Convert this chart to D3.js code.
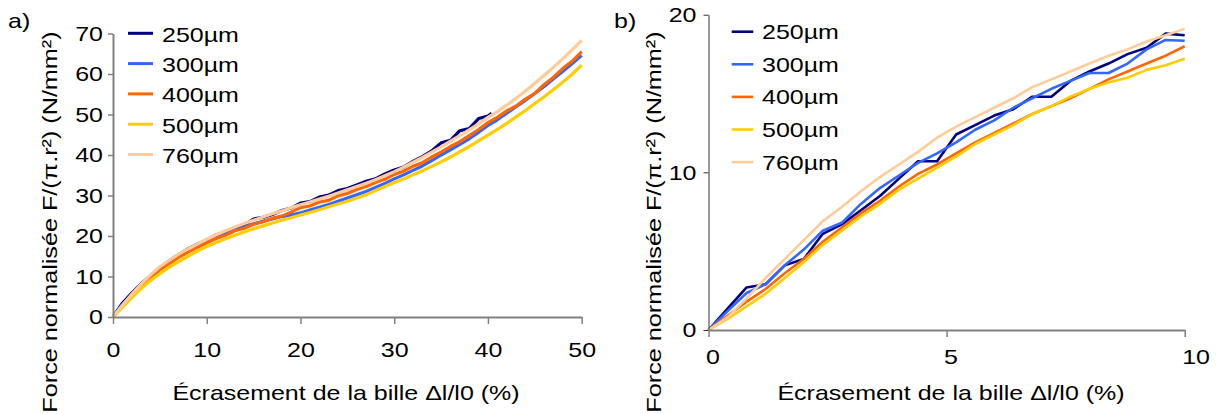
<!DOCTYPE html>
<html><head><meta charset="utf-8">
<script src="https://cdn.jsdelivr.net/npm/d3@7"></script>
<style>
html,body{margin:0;padding:0;background:#fff;}
svg{display:block;}
text{font-family:"Liberation Sans",Arial,sans-serif;fill:#000;}
</style></head>
<body>
<svg id="chart" width="1218" height="414"></svg>
<script>
// ---------- data ----------
const seriesNames = ["250µm","300µm","400µm","500µm","760µm"];
const seriesColors = ["#000080","#3366FF","#FF6600","#FFCC00","#FFCC99"];

// Panel a : écrasement 0–50 %
const xA = [0,1,2,3,4,5,6,7,8,9,10,11,12,13,14,15,16,17,18,19,20,21,22,23,24,25,26,27,28,29,30,31,32,33,34,35,36,37,38,39,40,41,42,43,44,45,46,47,48,49,50];
const xA250 = [0,1,2,3,4,5,6,7,8,9,10,11,12,13,14,15,16,17,18,19,20,21,22,23,24,25,26,27,28,29,30,31,32,33,34,35,36,37,38,39,40,40.4];
const a250 = [0,3.4,5.9,8.2,10.2,12.2,13.9,15.4,16.8,18.0,19.0,20.3,21.0,22.0,22.7,24.2,24.6,25.3,26.3,26.9,28.1,28.5,29.6,30.1,31.2,31.7,32.6,33.5,34.1,35.3,36.3,37.0,38.4,39.6,41.0,43.0,43.6,46.0,46.5,49.0,49.6,50.3];
const a300 = [0,3.0,5.4,7.7,9.8,11.8,13.5,15.0,16.3,17.6,18.7,19.7,20.6,21.4,22.2,23.0,23.6,24.2,24.8,25.2,25.7,26.4,27.1,27.8,28.6,29.4,30.2,31.0,32.0,33.0,34.1,35.1,36.2,37.3,38.6,40.0,41.3,42.6,44.0,45.6,47.3,48.7,50.3,51.9,53.5,55.2,56.9,58.8,60.7,62.6,64.6];
const a400 = [0,2.7,5.3,7.6,9.7,11.6,13.2,14.7,16.0,17.2,18.3,19.4,20.2,21.3,21.9,22.9,23.5,24.4,24.9,25.9,27.0,27.4,28.4,28.8,29.9,30.5,31.5,32.2,33.2,34.0,35.2,36.0,37.2,38.1,39.5,40.7,42.1,43.3,44.8,46.3,48.0,49.3,50.9,52.1,53.8,55.2,57.4,59.2,61.4,63.2,65.5];
const a500 = [0,2.4,4.8,7.0,9.0,10.7,12.3,13.7,15.0,16.3,17.4,18.4,19.3,20.2,21.0,21.8,22.5,23.2,23.9,24.5,25.2,25.8,26.5,27.2,27.9,28.6,29.4,30.2,31.2,32.2,33.2,34.1,35.1,36.1,37.2,38.3,39.5,40.8,42.1,43.5,44.9,46.3,47.8,49.4,51.0,52.7,54.4,56.2,58.0,60.0,62.2];
const a760 = [0,2.9,5.6,8.1,10.4,12.4,14.0,15.5,16.8,18.0,19.2,20.3,21.3,22.2,23.1,23.9,24.7,25.5,26.2,27.0,27.7,28.4,29.1,29.8,30.6,31.4,32.2,33.0,33.9,34.9,35.9,37.0,38.2,39.4,40.7,42.0,43.4,44.8,46.2,47.7,49.3,50.7,52.3,54.0,55.8,57.7,59.7,61.7,63.8,66.0,68.3];

// Panel b : écrasement 0–10 %
const xB = [0,0.4,0.8,1.2,1.6,2.0,2.4,2.8,3.2,3.6,4.0,4.4,4.8,5.2,5.6,6.0,6.4,6.8,7.2,7.6,8.0,8.4,8.8,9.2,9.6,10.0];
const b250 = [0,1.35,2.7,2.9,4.1,4.5,6.1,6.7,7.6,8.5,9.6,10.7,10.7,12.4,13.0,13.6,14.0,14.8,14.8,15.8,16.4,16.9,17.5,17.9,18.8,18.7];
const b300 = [0,1.2,2.35,2.9,4.1,5.1,6.3,6.8,8.0,9.0,9.8,10.6,11.2,11.9,12.7,13.3,14.1,14.7,15.3,15.8,16.3,16.3,16.9,17.8,18.4,18.35];
const b400 = [0,0.9,1.8,2.6,3.6,4.5,5.6,6.5,7.4,8.2,9.1,9.9,10.5,11.2,11.9,12.5,13.1,13.7,14.2,14.7,15.3,15.9,16.4,16.9,17.4,18.0];
const b500 = [0,0.7,1.5,2.3,3.3,4.3,5.4,6.3,7.2,8.0,8.9,9.6,10.3,11.0,11.8,12.4,13.0,13.7,14.2,14.8,15.3,15.7,16.0,16.5,16.8,17.2];
const b760 = [0,0.8,2.0,3.3,4.5,5.7,6.9,7.8,8.8,9.7,10.5,11.3,12.2,12.9,13.5,14.1,14.7,15.4,15.9,16.4,16.9,17.4,17.8,18.3,18.7,19.1];

const ticksAx = [0,10,20,30,40,50];
const ticksAy = [0,10,20,30,40,50,60,70];
const ticksBx = [0,5,10];
const ticksBy = [0,10,20];

const xTitle = "Écrasement de la bille Δl/l0 (%)";
const yTitle = "Force normalisée F/(π.r²) (N/mm²)";

// ---------- drawing ----------
const svg = d3.select("#chart");
const FS = 21;
const SX = 1.19;   // horizontal stretch of the original picture's lettering
const SY = 1.2;    // stretch along the vertical titles
const grey = "#808080";

function zipXY(xs, ys){ return ys.map((v,i)=>[xs[i], v]); }

function addText(g, x, y, str, anchor){
  return g.append("text")
    .attr("transform", `translate(${x},${y}) scale(${SX},1)`)
    .attr("text-anchor", anchor || "start")
    .attr("font-size", FS).text(str);
}
function stretchTicks(ax, dxExtra){
  ax.selectAll(".tick text").each(function(){
    const t = d3.select(this);
    const x = +(t.attr("x") || 0) + (dxExtra || 0);
    const y = +(t.attr("y") || 0);
    t.attr("x",0).attr("y",0)
     .attr("transform", `translate(${x},${y}) scale(${SX},1)`)
     .attr("font-size",FS).attr("font-family","Liberation Sans, Arial, sans-serif").attr("fill","#000");
  });
}

const seriesA = [zipXY(xA250,a250), zipXY(xA,a300), zipXY(xA,a400), zipXY(xA,a500), zipXY(xA,a760)];
const seriesB = [zipXY(xB,b250), zipXY(xB,b300), zipXY(xB,b400), zipXY(xB,b500), zipXY(xB,b760)];

// Panel a
const sxA = d3.scaleLinear().domain([0,50]).range([113,581.7]);
const syA = d3.scaleLinear().domain([0,70]).range([317,33.5]);

const gA = svg.append("g");
const lineA = d3.line().x(d=>sxA(d[0])).y(d=>syA(d[1]));
seriesA.forEach((s,i)=>{
  gA.append("path").attr("d", lineA(s)).attr("fill","none")
    .attr("stroke", seriesColors[i]).attr("stroke-width",3.2)
    .attr("stroke-linejoin","round");
});

const axAy = gA.append("g").attr("transform","translate(113,0)")
  .call(d3.axisLeft(syA).tickValues(ticksAy).tickSize(5).tickSizeOuter(0).tickPadding(5));
const axAx = gA.append("g").attr("transform","translate(0,317)")
  .call(d3.axisBottom(sxA).tickValues(ticksAx).tickSize(7).tickSizeOuter(0).tickPadding(18));
[axAy, axAx].forEach(ax=>{
  ax.select(".domain").attr("stroke",grey).attr("stroke-width",2);
  ax.selectAll(".tick line").attr("stroke",grey).attr("stroke-width",1.5);
  stretchTicks(ax);
});

addText(gA, 346, 400, xTitle, "middle");
gA.append("text").attr("transform",`translate(57,222) rotate(-90) scale(${SY},1)`).attr("text-anchor","middle")
  .attr("font-size",FS).text(yTitle);
addText(gA, 8, 28, "a)");

// legend a
seriesNames.forEach((n,i)=>{
  const y = 33.3 + i*30.3;
  gA.append("line").attr("x1",128).attr("x2",153).attr("y1",y).attr("y2",y)
    .attr("stroke",seriesColors[i]).attr("stroke-width",3);
  addText(gA, 162, y+8.4, n);
});

// Panel b
const sxB = d3.scaleLinear().domain([0,10]).range([708.5,1184.7]);
const syB = d3.scaleLinear().domain([0,20]).range([330,14.7]);
const gB = svg.append("g");
const lineB = d3.line().x(d=>sxB(d[0])).y(d=>syB(d[1]));
seriesB.forEach((s,i)=>{
  gB.append("path").attr("d", lineB(s)).attr("fill","none")
    .attr("stroke", seriesColors[i]).attr("stroke-width",2.6)
    .attr("stroke-linejoin","round");
});

const axBy = gB.append("g").attr("transform","translate(708.5,0)")
  .call(d3.axisLeft(syB).tickValues(ticksBy).tickSize(5).tickSizeOuter(0).tickPadding(7));
axBy.select(".domain").attr("stroke","#333").attr("stroke-width",1);
axBy.selectAll(".tick line").attr("stroke","#333").attr("stroke-width",1);
stretchTicks(axBy);
const axBx = gB.append("g").attr("transform","translate(0,330)")
  .call(d3.axisBottom(sxB).tickValues(ticksBx).tickSize(7).tickSizeOuter(0).tickPadding(12));
axBx.select(".domain").attr("stroke",grey).attr("stroke-width",2);
axBx.selectAll(".tick line").attr("stroke",grey).attr("stroke-width",1.5);
axBx.selectAll(".tick text").attr("text-anchor","start");
stretchTicks(axBx, -3);

addText(gB, 951, 400, xTitle, "middle");
gB.append("text").attr("transform",`translate(661,222) rotate(-90) scale(${SY},1)`).attr("text-anchor","middle")
  .attr("font-size",FS).text(yTitle);
addText(gB, 614, 28, "b)");

seriesNames.forEach((n,i)=>{
  const y = 31.7 + i*32.6;
  gB.append("line").attr("x1",731.7).attr("x2",753.3).attr("y1",y).attr("y2",y)
    .attr("stroke",seriesColors[i]).attr("stroke-width",2.6);
  addText(gB, 762, y+7.5, n);
});
</script>
</body></html>
